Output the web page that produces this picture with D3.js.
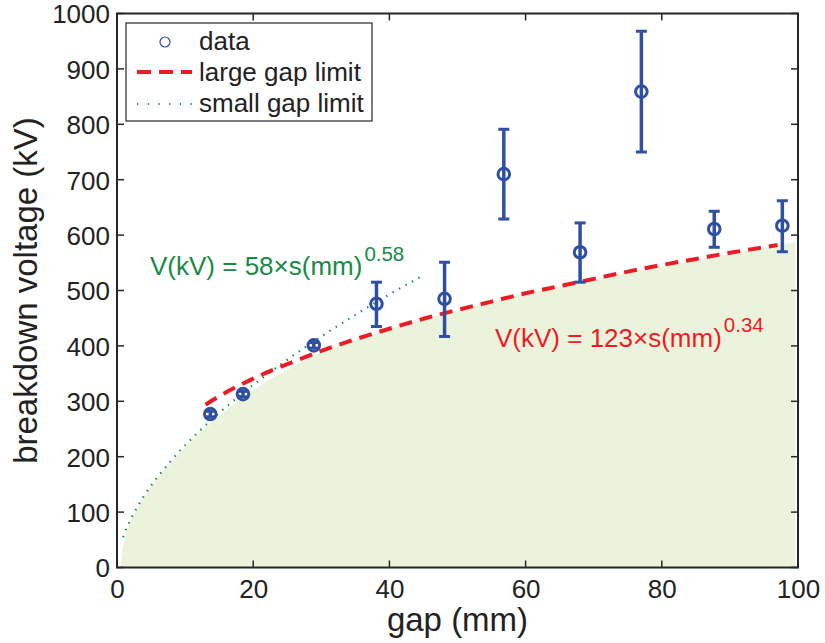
<!DOCTYPE html>
<html>
<head>
<meta charset="utf-8">
<script src="https://cdn.jsdelivr.net/npm/d3@7"></script>
<style>
  html, body { margin: 0; padding: 0; background: #fff; }
  svg { display: block; font-family: "Liberation Sans", Arial, sans-serif; }
</style>
</head>
<body>
<svg id="chart" width="825" height="643"></svg>
<script>
// ---- data ----
const gap = [13.7, 18.5, 28.9, 38.1, 48.1, 56.8, 68.0, 77.0, 87.7, 97.7];
const voltage = [277, 313, 401, 476, 485, 710, 569, 859, 611, 617];
const voltageUpper = [282, 318, 406, 515, 551, 791, 622, 968, 643, 662];
const voltageLower = [272, 308, 396, 435, 417, 629, 515, 750, 578, 570];

const largeGapS = [13, 15, 20, 25, 30, 35, 40, 45, 50, 55, 60, 65, 70, 75, 80, 85, 90, 95, 97];
const largeGapV = [294, 309, 341, 367, 391, 412, 431, 449, 465, 480, 495, 508, 521, 534, 546, 557, 568, 578, 582];

const smallGapS = [0.9, 1, 1.5, 2, 3, 4, 5, 6, 8, 10, 12, 14, 16, 18, 20, 25, 30, 35, 40, 44.5];
const smallGapV = [54.6, 58, 73.4, 86.7, 109.7, 129.6, 147.5, 164, 193.7, 220.5, 245, 268, 289.6, 310, 329.6, 375, 417, 456, 493, 524];

const regionS = [0.5, 0.7, 1, 1.3, 2, 3, 4, 5, 6, 8, 10, 12, 14, 16, 18, 20, 22, 24, 26, 28, 30, 35, 40, 45, 50, 55, 60, 65, 70, 75, 80, 85, 90, 95, 99.6];
const regionV = [0, 22, 43, 57, 83, 107, 127, 145, 161, 191, 217, 241, 263, 284, 303, 320, 336, 350, 364, 378, 389, 411, 430, 448, 464, 479, 494, 507, 520, 532, 544, 555, 566, 577, 587];

const xTicks = [0, 20, 40, 60, 80, 100];
const yTicks = [0, 100, 200, 300, 400, 500, 600, 700, 800, 900, 1000];

const legendLabels = ["data", "large gap limit", "small gap limit"];

// ---- layout ----
const svg = d3.select("#chart");
const L = 117, R = 798, T = 13.5, B = 567.5;
const x = d3.scaleLinear().domain([0, 100]).range([L, R]);
const y = d3.scaleLinear().domain([0, 1000]).range([B, T]);

const BLUE = "#2f4fa2", RED = "#ed1c24", GREEN = "#178a48", AX = "#262626";
const FS = 26;

// shaded region
const regionPts = regionS.map((s, i) => [s, regionV[i]]);
const area = d3.area().x(d => x(d[0])).y0(y(0)).y1(d => y(d[1])).curve(d3.curveMonotoneX);
svg.append("path").datum(regionPts).attr("d", area).attr("fill", "#ebf3dd");

// small gap limit (dotted)
const line = d3.line().x(d => x(d[0])).y(d => y(d[1])).curve(d3.curveMonotoneX);
svg.append("path").datum(smallGapS.map((s, i) => [s, smallGapV[i]]))
  .attr("d", line).attr("fill", "none").attr("stroke", GREEN)
  .attr("stroke-width", 2.2).attr("stroke-dasharray", "1.4,6");

// large gap limit (dashed)
svg.append("path").datum(largeGapS.map((s, i) => [s, largeGapV[i]]))
  .attr("d", line).attr("fill", "none").attr("stroke", RED)
  .attr("stroke-width", 4).attr("stroke-dasharray", "13,8");

// data with error bars
const pts = gap.map((g, i) => ({ g, v: voltage[i], hi: voltageUpper[i], lo: voltageLower[i] }));
const eg = svg.append("g");
const cap = 5.5;
pts.forEach(p => {
  eg.append("line").attr("x1", x(p.g)).attr("x2", x(p.g)).attr("y1", y(p.lo)).attr("y2", y(p.hi))
    .attr("stroke", BLUE).attr("stroke-width", 3.5);
  [p.lo, p.hi].forEach(v => {
    eg.append("line").attr("x1", x(p.g) - cap).attr("x2", x(p.g) + cap).attr("y1", y(v)).attr("y2", y(v))
      .attr("stroke", BLUE).attr("stroke-width", 3);
  });
  eg.append("circle").attr("cx", x(p.g)).attr("cy", y(p.v)).attr("r", 5.8)
    .attr("fill", "none").attr("stroke", BLUE).attr("stroke-width", 3);
});

// annotations
const g1 = svg.append("text").attr("x", 150).attr("y", 275).attr("fill", GREEN)
  .attr("font-size", FS);
g1.append("tspan").text("V(kV) = 58×s(mm)");
g1.append("tspan").attr("dy", -14).attr("dx", 2).attr("font-size", 20.5).text("0.58");

const r1 = svg.append("text").attr("x", 495).attr("y", 347).attr("fill", RED)
  .attr("font-size", FS);
r1.append("tspan").text("V(kV) = 123×s(mm)");
r1.append("tspan").attr("dy", -15).attr("dx", 2).attr("font-size", 20.5).text("0.34");

// axes box
svg.append("rect").attr("x", L).attr("y", T).attr("width", R - L).attr("height", B - T)
  .attr("fill", "none").attr("stroke", AX).attr("stroke-width", 2);

// ticks on all sides
const tl = 7;
xTicks.forEach(t => {
  svg.append("line").attr("x1", x(t)).attr("x2", x(t)).attr("y1", B).attr("y2", B - tl).attr("stroke", AX).attr("stroke-width", 1.5);
  svg.append("line").attr("x1", x(t)).attr("x2", x(t)).attr("y1", T).attr("y2", T + tl).attr("stroke", AX).attr("stroke-width", 1.5);
});
yTicks.forEach(t => {
  svg.append("line").attr("x1", L).attr("x2", L + tl).attr("y1", y(t)).attr("y2", y(t)).attr("stroke", AX).attr("stroke-width", 1.5);
  svg.append("line").attr("x1", R).attr("x2", R - tl).attr("y1", y(t)).attr("y2", y(t)).attr("stroke", AX).attr("stroke-width", 1.5);
});

// tick labels via axis generators (lines hidden, text only)
const xAxis = svg.append("g").attr("transform", `translate(0,${B})`)
  .call(d3.axisBottom(x).tickValues(xTicks).tickSize(0).tickPadding(0).tickFormat(d3.format("d")));
xAxis.select(".domain").remove();
xAxis.selectAll("text").attr("font-size", FS).attr("fill", "#222").attr("font-family", "Liberation Sans, Arial, sans-serif")
  .attr("dy", null).attr("y", 30);

const yAxis = svg.append("g").attr("transform", `translate(${L},0)`)
  .call(d3.axisLeft(y).tickValues(yTicks).tickSize(0).tickPadding(0).tickFormat(d3.format("d")));
yAxis.select(".domain").remove();
yAxis.selectAll("text").attr("font-size", FS).attr("fill", "#222").attr("font-family", "Liberation Sans, Arial, sans-serif")
  .attr("x", -7).attr("dy", "0.36em");

// axis titles
svg.append("text").attr("x", (L + R) / 2).attr("y", 631).attr("text-anchor", "middle")
  .attr("font-size", 33).attr("fill", "#222").text("gap (mm)");
svg.append("text").attr("transform", `translate(37,${(T + B) / 2}) rotate(-90)`).attr("text-anchor", "middle")
  .attr("font-size", 33).attr("fill", "#222").text("breakdown voltage (kV)");

// legend
const lg = svg.append("g");
lg.append("rect").attr("x", 126).attr("y", 23).attr("width", 246).attr("height", 98)
  .attr("fill", "#fff").attr("stroke", AX).attr("stroke-width", 1.2);
lg.append("circle").attr("cx", 165).attr("cy", 42).attr("r", 5).attr("fill", "none").attr("stroke", BLUE).attr("stroke-width", 1.2);
lg.append("line").attr("x1", 137).attr("x2", 192).attr("y1", 72).attr("y2", 72)
  .attr("stroke", RED).attr("stroke-width", 4).attr("stroke-dasharray", "14,8");
lg.append("line").attr("x1", 137).attr("x2", 192).attr("y1", 104).attr("y2", 104)
  .attr("stroke", GREEN).attr("stroke-width", 2).attr("stroke-dasharray", "1.2,9.5");
const ly = [50, 81, 112];
legendLabels.forEach((t, i) => {
  lg.append("text").attr("x", 199).attr("y", ly[i]).attr("font-size", FS).attr("fill", "#222").text(t);
});
</script>
</body>
</html>
